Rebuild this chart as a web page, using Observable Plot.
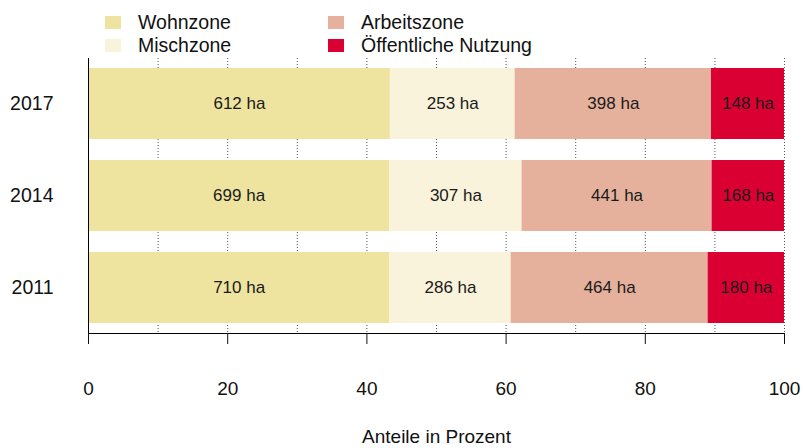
<!DOCTYPE html>
<html><head><meta charset="utf-8">
<script src="https://cdn.jsdelivr.net/npm/d3@7"></script>
<script src="https://cdn.jsdelivr.net/npm/@observablehq/plot@0.6"></script>
<style>
body{margin:0;background:#fff;font-family:"Liberation Sans",Arial,sans-serif;}
#wrap{position:relative;width:803px;height:448px;overflow:hidden;background:#fff;}
.sw{position:absolute;width:16px;height:13px;}
.lt{position:absolute;font-size:19.5px;line-height:19.5px;color:#111;white-space:nowrap;}
#chart{position:absolute;left:0;top:50px;}
</style></head><body>
<div id="wrap"><div id="legend"></div><div id="chart"></div></div>
<script>
const years = ["2017", "2014", "2011"];
const zones = ["Wohnzone", "Mischzone", "Arbeitszone", "Öffentliche Nutzung"];
const colors = ["#EEE4A0", "#F8F3DA", "#E5B19C", "#DA0032"];
const wohnzone = [612, 699, 710];
const mischzone = [253, 307, 286];
const arbeitszone = [398, 441, 464];
const oeffentlich = [148, 168, 180];
const xTicks = [0, 20, 40, 60, 80, 100];
const gridTicks = [10, 20, 30, 40, 50, 60, 70, 80, 90, 100];
const xLabel = "Anteile in Prozent";

const series = [wohnzone, mischzone, arbeitszone, oeffentlich];
const table = [];
years.forEach((y, i) => {
  const total = d3.sum(series, s => s[i]);
  zones.forEach((z, j) => table.push({year: y, zone: z, ha: series[j][i], pct: series[j][i] / total * 100}));
});

// legend (2 columns)
const legend = document.getElementById("legend");
const legendPos = [[105, 16], [105, 39], [328, 16], [328, 39]];
zones.forEach((z, j) => {
  const [lx, ly] = legendPos[j];
  const sw = document.createElement("div");
  sw.className = "sw"; sw.style.left = lx + "px"; sw.style.top = ly + "px"; sw.style.background = colors[j];
  const t = document.createElement("div");
  t.className = "lt"; t.style.left = (lx + 33) + "px"; t.style.top = (ly - 3) + "px"; t.textContent = z;
  legend.appendChild(sw); legend.appendChild(t);
});

const chart = Plot.plot({
  width: 803, height: 398,
  marginLeft: 88, marginRight: 19, marginTop: 8, marginBottom: 115,
  style: {fontFamily: "Liberation Sans, Arial, sans-serif", fontSize: "19px", color: "#111", background: "transparent"},
  x: {domain: [0, 100]},
  y: {domain: years, paddingInner: 0.23, paddingOuter: 0.1},
  color: {domain: zones, range: colors},
  marks: [
    Plot.ruleX(gridTicks, {stroke: "#555", strokeDasharray: "1,2"}),
    Plot.barX(table, Plot.stackX({x: "pct", y: "year", fill: "zone", order: zones})),
    Plot.textX(table, Plot.stackX({x: "pct", y: "year", z: "zone", order: zones, text: d => d.ha + " ha", fontSize: 17, fill: "#1a1a1a"})),
    Plot.ruleX([0], {stroke: "#000"}),
    Plot.frame({anchor: "bottom", stroke: "#000"}),
    Plot.axisX(xTicks, {tickSize: 11, tickPadding: 37, label: null, fontSize: 19}),
    Plot.axisY({tickSize: 0, tickPadding: 35, label: null, fontSize: 19.5}),
    Plot.text([xLabel], {frameAnchor: "bottom", dy: 109, fontSize: 19})
  ]
});
document.getElementById("chart").appendChild(chart);
</script>
</body></html>
